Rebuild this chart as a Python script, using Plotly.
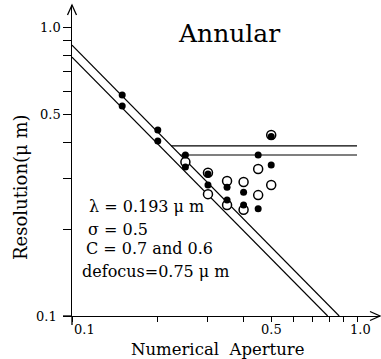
import math
import plotly.graph_objects as go

# ---- data ----
upper_line_x = [0.1, 0.866]
upper_line_y = [0.866, 0.1]
lower_line_x = [0.1, 0.789]
lower_line_y = [0.787, 0.1]

h_upper_x = [0.223, 1.0]
h_upper_y = [0.388, 0.388]
h_lower_x = [0.240, 1.0]
h_lower_y = [0.3606, 0.3606]

filled_x = [0.15, 0.15, 0.2, 0.2, 0.25, 0.25, 0.3, 0.3, 0.35, 0.35, 0.4, 0.4, 0.45, 0.45, 0.5, 0.5]
filled_y = [0.582, 0.533, 0.440, 0.403, 0.361, 0.328, 0.310, 0.284, 0.279, 0.252, 0.268, 0.242, 0.361, 0.235, 0.418, 0.333]

open_x = [0.25, 0.3, 0.3, 0.35, 0.35, 0.4, 0.4, 0.45, 0.45, 0.5, 0.5]
open_y = [0.341, 0.313, 0.264, 0.293, 0.242, 0.291, 0.233, 0.3225, 0.262, 0.423, 0.284]

tick_vals = [0.1, 0.2, 0.3, 0.4, 0.5, 0.6, 0.7, 0.8, 0.9, 1.0]
x_tick_labels = {0.1: "0.1", 0.5: "0.5", 1.0: "1.0"}
y_tick_labels = {0.1: "0.1", 0.5: "0.5", 1.0: "1.0"}

title_text = "Annular"
x_title = "Numerical\u00a0\u00a0Aperture"
y_title = "Resolution(\u03bc m)"
info_lines = ["\u03bb = 0.193 \u03bc m", "\u03c3 = 0.5", "C = 0.7 and 0.6", "defocus=0.75 \u03bc m"]

# ---- figure ----
W, H = 381, 359
ML, MR, MT, MB = 72, 1, 5, 43
PW, PH = W - ML - MR, H - MT - MB
FONT = "DejaVu Serif"


def pxx(px):
    return (px - ML) / PW


def pxy(py):
    return (H - MB - py) / PH


fig = go.Figure()
line_style = dict(color="black", width=1.2)
for xs, ys in [(upper_line_x, upper_line_y), (lower_line_x, lower_line_y),
               (h_upper_x, h_upper_y), (h_lower_x, h_lower_y)]:
    fig.add_trace(go.Scatter(x=xs, y=ys, mode="lines", line=line_style,
                             showlegend=False, hoverinfo="skip"))

fig.add_trace(go.Scatter(x=open_x, y=open_y, mode="markers", showlegend=False,
                         marker=dict(symbol="circle", size=9, color="white",
                                     line=dict(color="black", width=1.5))))
fig.add_trace(go.Scatter(x=filled_x, y=filled_y, mode="markers", showlegend=False,
                         marker=dict(symbol="circle", size=7, color="black",
                                     line=dict(width=0))))

x_right = -1 + (W - MR - ML) / 285.0
y_top = -1 + PH / 289.0

fig.update_xaxes(type="log", range=[-1, x_right], showline=True, linecolor="black",
                 linewidth=1.2, ticks="outside", ticklen=5, tickwidth=1.1, tickcolor="black",
                 tickvals=tick_vals, showticklabels=False, showgrid=False, zeroline=False)
fig.update_yaxes(type="log", range=[-1, y_top], showline=True, linecolor="black",
                 linewidth=1.2, ticks="outside", ticklen=8, tickwidth=1.1, tickcolor="black",
                 tickvals=tick_vals, showticklabels=False, showgrid=False, zeroline=False)

ls = dict(color="black", width=1.3)
shapes = [
    dict(type="path", xref="paper", yref="paper", xsizemode="pixel", ysizemode="pixel",
         xanchor=0, yanchor=1, path="M-4.5,-10 L0,0 L4.5,-10", line=ls),
    dict(type="path", xref="paper", yref="paper", xsizemode="pixel", ysizemode="pixel",
         xanchor=1, yanchor=0, path="M-10,4.5 L0,0 L-10,-4.5", line=ls),
    dict(type="path", xref="paper", yref="paper", xsizemode="pixel", ysizemode="pixel",
         xanchor=0, yanchor=0, path="M0,0 L0,-9", line=ls),
    dict(type="path", xref="paper", yref="paper", xsizemode="pixel", ysizemode="pixel",
         xanchor=0, yanchor=0, path="M0,0 L-9,0", line=ls),
]

ann = []
tf = dict(family=FONT, size=13, color="black")
for v, t in y_tick_labels.items():
    ann.append(dict(x=0, xref="paper", y=math.log10(v), yref="y", text=t, showarrow=False,
                    xanchor="right", yanchor="middle", xshift=-9 if v != 0.1 else -13, font=tf))
for v, t in x_tick_labels.items():
    ann.append(dict(x=math.log10(v), xref="x", y=0, yref="paper", text=t, showarrow=False,
                    xanchor="left" if v == 0.1 else "center", yanchor="top", yshift=-4,
                    xshift=3 if v == 1.0 else 0, font=tf))

ann.append(dict(x=pxx(229), y=pxy(34), xref="paper", yref="paper", text=title_text,
                showarrow=False, xanchor="center", yanchor="middle",
                font=dict(family=FONT, size=25, color="black")))
ann.append(dict(x=pxx(218), y=pxy(349), xref="paper", yref="paper", text=x_title,
                showarrow=False, xanchor="center", yanchor="middle",
                font=dict(family=FONT, size=16.5, color="black")))
ann.append(dict(x=pxx(21), y=pxy(187), xref="paper", yref="paper", text=y_title,
                showarrow=False, xanchor="center", yanchor="middle", textangle=-90,
                font=dict(family=FONT, size=18, color="black")))

info_pos = [(87, 206), (86, 229), (84, 249), (80, 271)]
for (px, py), t in zip(info_pos, info_lines):
    ann.append(dict(x=pxx(px), y=pxy(py), xref="paper", yref="paper", text=t,
                    showarrow=False, xanchor="left", yanchor="middle",
                    font=dict(family=FONT, size=16, color="black")))

fig.update_layout(shapes=shapes, annotations=ann, width=W, height=H,
                  margin=dict(l=ML, r=MR, t=MT, b=MB, pad=0),
                  plot_bgcolor="white", paper_bgcolor="white", showlegend=False)

fig.write_html("out.html")
